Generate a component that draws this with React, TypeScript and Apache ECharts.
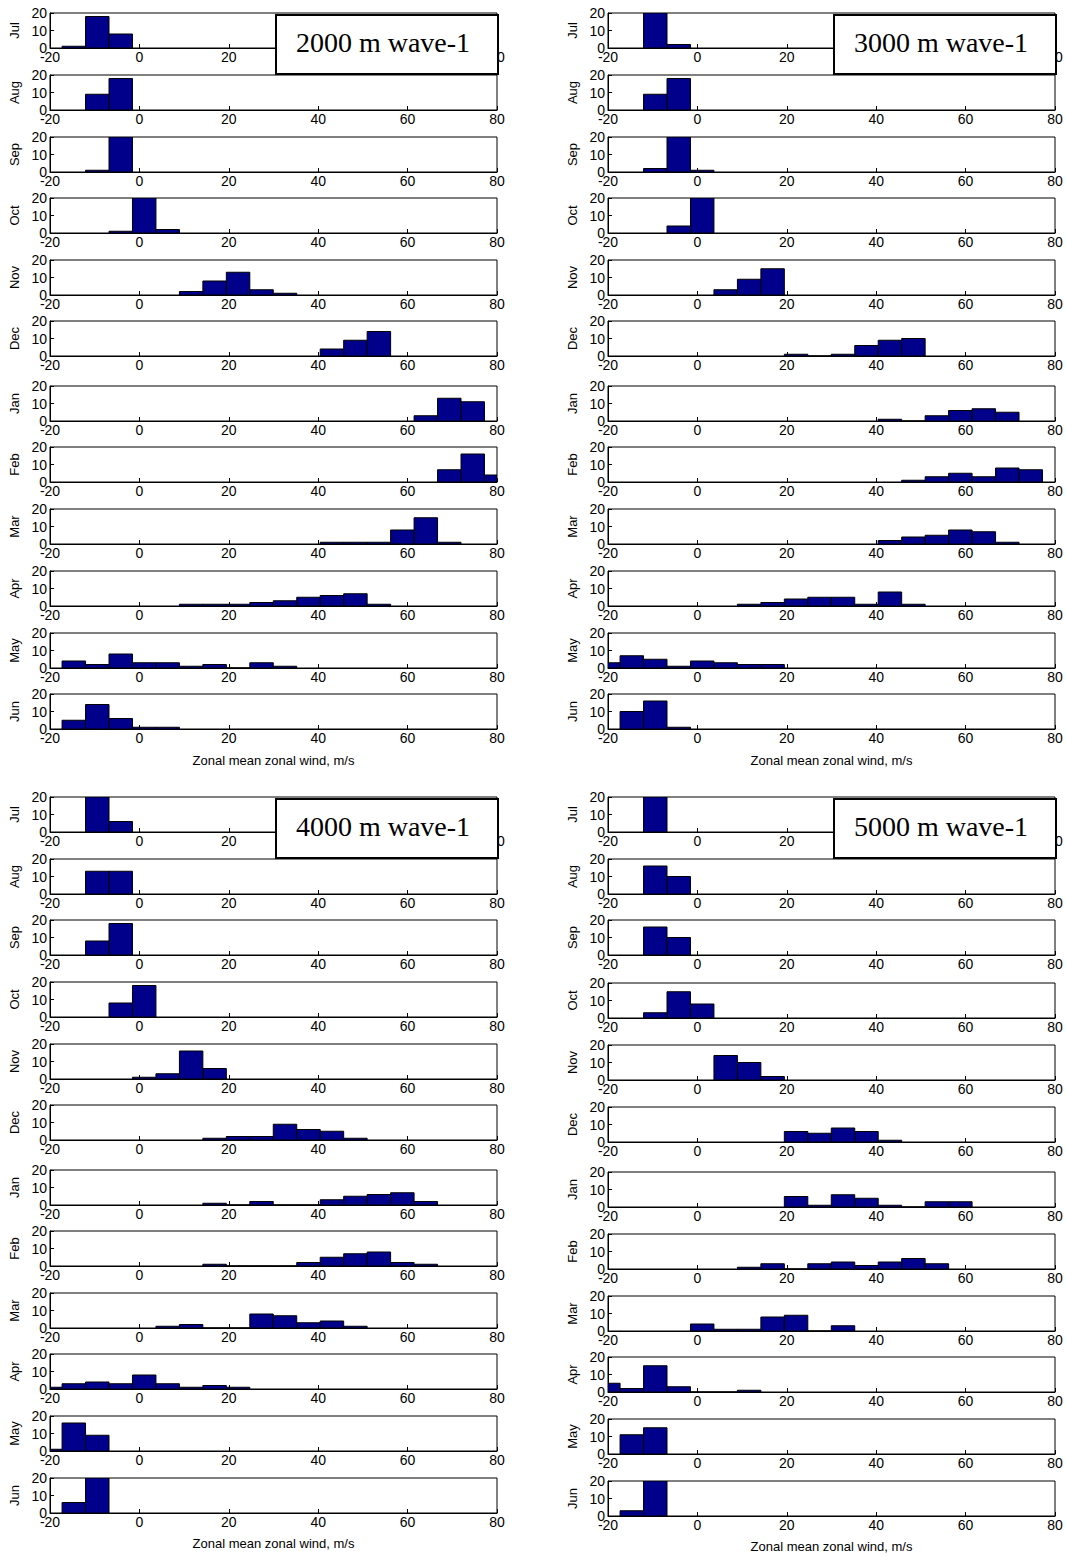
import * as echarts from 'echarts'
import { useEffect, useRef } from 'react'

// bins used by every histogram
const binStart = -22.55
const binWidth = 5.25

const months = ['Jul', 'Aug', 'Sep', 'Oct', 'Nov', 'Dec', 'Jan', 'Feb', 'Mar', 'Apr', 'May', 'Jun']
const xTicks = [-20, 0, 20, 40, 60, 80]
const yTicks = [0, 10, 20]

// each entry: [index of first bin, counts from that bin on]
const hist2000: [number, number[]][] = [
  [1, [1, 18, 8]],
  [2, [9, 18]],
  [2, [1, 25]],
  [3, [1, 25, 2]],
  [6, [2, 8, 13, 3, 1]],
  [12, [4, 9, 14]],
  [16, [3, 13, 11]],
  [17, [7, 16, 4]],
  [12, [1, 1, 1, 8, 15, 1]],
  [6, [1, 1, 1, 2, 3, 5, 6, 7, 1]],
  [1, [4, 2, 8, 3, 3, 1, 2, 0, 3, 1]],
  [1, [5, 14, 6, 1, 1]]
]
const hist3000: [number, number[]][] = [
  [2, [25, 2]],
  [2, [9, 18]],
  [2, [2, 25, 1]],
  [3, [4, 25]],
  [5, [3, 9, 15]],
  [8, [1, 0, 1, 6, 9, 10]],
  [12, [1, 0, 3, 6, 7, 5]],
  [13, [1, 3, 5, 3, 8, 7]],
  [12, [2, 4, 5, 8, 7, 1]],
  [6, [1, 2, 4, 5, 5, 1, 8, 1]],
  [0, [3, 7, 5, 1, 4, 3, 2, 2]],
  [1, [10, 16, 1]]
]
const hist4000: [number, number[]][] = [
  [2, [25, 6]],
  [2, [13, 13]],
  [2, [8, 18]],
  [3, [8, 18]],
  [4, [1, 3, 16, 6]],
  [7, [1, 2, 2, 9, 6, 5, 1]],
  [7, [1, 0, 2, 0, 0, 3, 5, 6, 7, 2]],
  [7, [1, 0, 0, 0, 2, 5, 7, 8, 2, 1]],
  [5, [1, 2, 0, 0, 8, 7, 3, 4, 1]],
  [0, [1, 3, 4, 3, 8, 3, 1, 2, 1]],
  [0, [1, 16, 9]],
  [1, [6, 25]]
]
const hist5000: [number, number[]][] = [
  [2, [25]],
  [2, [16, 10]],
  [2, [16, 10]],
  [2, [3, 15, 8]],
  [5, [14, 10, 2]],
  [8, [6, 5, 8, 6, 1]],
  [8, [6, 1, 7, 5, 1, 0, 3, 3]],
  [6, [1, 3, 0, 3, 4, 2, 4, 6, 3]],
  [4, [4, 1, 1, 8, 9, 0, 3]],
  [0, [5, 2, 15, 3, 0, 0, 1]],
  [1, [11, 15]],
  [1, [3, 25]]
]

const panels = [
  { title: '2000 m wave-1', data: hist2000, left: 50, rows: [13, 75, 137, 198, 260, 321, 386, 447, 509, 571, 633, 694], xlab: 760 },
  { title: '3000 m wave-1', data: hist3000, left: 608, rows: [13, 75, 137, 198, 260, 321, 386, 447, 509, 571, 633, 694], xlab: 760 },
  { title: '4000 m wave-1', data: hist4000, left: 50, rows: [797, 859, 920, 982, 1044, 1105, 1170, 1231, 1293, 1354, 1416, 1478], xlab: 1543 },
  { title: '5000 m wave-1', data: hist5000, left: 608, rows: [797, 859, 920, 983, 1045, 1107, 1172, 1234, 1296, 1357, 1419, 1481], xlab: 1546 }
]

const plotW = 447
const plotH = 35
const font = '"Liberation Sans", Arial, sans-serif'

function App() {
  const ref = useRef<HTMLDivElement>(null)

  useEffect(() => {
    if (!ref.current) return
    const chart = echarts.init(ref.current, undefined, { renderer: 'svg' })

    const grid: any[] = []
    const xAxis: any[] = []
    const yAxis: any[] = []
    const series: any[] = []
    const graphic: any[] = []

    panels.forEach((p) => {
      p.rows.forEach((top, r) => {
        const idx = grid.length
        grid.push({ left: p.left, top, width: plotW, height: plotH, show: true, borderColor: '#000', borderWidth: 1, backgroundColor: '#fff' })
        xAxis.push({
          gridIndex: idx, type: 'value', min: xTicks[0], max: xTicks[xTicks.length - 1], interval: 20,
          axisLine: { onZero: false, lineStyle: { color: '#000' } },
          axisTick: { inside: true, length: 4, lineStyle: { color: '#000' } },
          axisLabel: { color: '#000', fontSize: 14, fontFamily: font, margin: 2 },
          splitLine: { show: false }
        })
        yAxis.push({
          gridIndex: idx, type: 'value', min: yTicks[0], max: yTicks[2], interval: 10,
          name: months[r], nameLocation: 'middle', nameRotate: 90, nameGap: 29,
          nameTextStyle: { color: '#000', fontSize: 13, fontFamily: font },
          axisLine: { onZero: false, lineStyle: { color: '#000' } },
          axisTick: { inside: true, length: 4, lineStyle: { color: '#000' } },
          axisLabel: { color: '#000', fontSize: 14, fontFamily: font, margin: 3 },
          splitLine: { show: false }
        })
        const [first, counts] = p.data[r]
        const rows = counts.map((c, i) => {
          const x0 = binStart + (first + i) * binWidth
          return [x0, x0 + binWidth, c]
        })
        series.push({
          type: 'custom', xAxisIndex: idx, yAxisIndex: idx, data: rows, clip: true,
          renderItem: (params: any, api: any) => {
            const a = api.coord([api.value(0), api.value(2)])
            const b = api.coord([api.value(1), 0])
            const shape = echarts.graphic.clipRectByRect(
              { x: a[0], y: a[1], width: b[0] - a[0], height: b[1] - a[1] },
              params.coordSys
            )
            if (!shape) return null
            return { type: 'rect', shape, style: { fill: '#00008b', stroke: '#000', lineWidth: 1 } }
          }
        })
      })
      graphic.push({
        type: 'rect', left: p.left + 225, top: p.rows[0] + 1, z: 100,
        shape: { width: 222, height: 59 },
        style: { fill: '#fff', stroke: '#000', lineWidth: 2 }
      })
      graphic.push({
        type: 'text', x: p.left + 333, y: p.rows[0] + 29, z: 101,
        style: { text: p.title, font: '28px "Liberation Serif", "Times New Roman", serif', fill: '#000', align: 'center', verticalAlign: 'middle' }
      })
      graphic.push({
        type: 'text', x: p.left + plotW / 2, y: p.xlab, z: 101,
        style: { text: 'Zonal mean zonal wind, m/s', font: '13px "Liberation Sans", Arial, sans-serif', fill: '#000', align: 'center', verticalAlign: 'middle' }
      })
    })

    chart.setOption({ animation: false, backgroundColor: '#fff', grid, xAxis, yAxis, series, graphic })
    return () => chart.dispose()
  }, [])

  return <div ref={ref} style={{ position: 'absolute', left: 0, top: 0, width: 1066, height: 1556 }} />
}

export default App
